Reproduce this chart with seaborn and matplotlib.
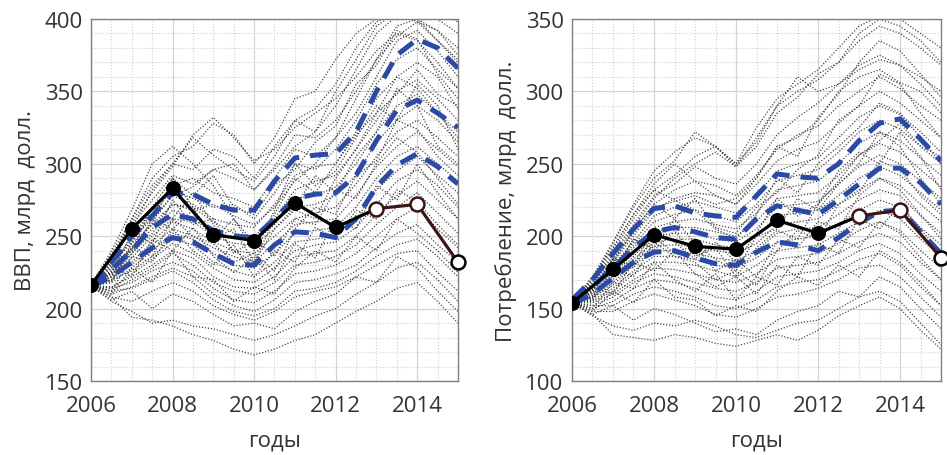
import pandas as pd
import seaborn as sns
import matplotlib.pyplot as plt
from matplotlib.ticker import MultipleLocator

# half-year grid points
years = [2006.0, 2006.5, 2007.0, 2007.5, 2008.0, 2008.5, 2009.0, 2009.5, 2010.0, 2010.5,
         2011.0, 2011.5, 2012.0, 2012.5, 2013.0, 2013.5, 2014.0, 2014.5, 2015.0]

# simulated GDP paths (billion USD)
gdp_paths = [
    [216, 238, 262, 290, 305, 312, 328, 320, 300, 318, 345, 350, 372, 390, 400, 410, 405, 400, 390],
    [216, 232, 255, 282, 300, 296, 310, 305, 290, 312, 330, 338, 355, 380, 398, 405, 400, 392, 380],
    [216, 236, 258, 275, 292, 286, 296, 300, 282, 298, 320, 318, 330, 350, 372, 395, 400, 385, 370],
    [216, 228, 250, 268, 285, 290, 280, 276, 270, 290, 310, 305, 318, 335, 360, 385, 392, 378, 360],
    [216, 230, 246, 265, 282, 276, 270, 272, 262, 280, 300, 296, 310, 330, 355, 372, 380, 365, 352],
    [216, 225, 242, 260, 278, 272, 262, 258, 256, 272, 292, 298, 300, 322, 345, 360, 370, 360, 338],
    [216, 226, 240, 255, 272, 270, 260, 252, 250, 262, 282, 288, 292, 310, 330, 350, 358, 345, 330],
    [216, 222, 238, 252, 268, 262, 252, 250, 246, 258, 276, 278, 284, 300, 322, 340, 348, 335, 322],
    [216, 224, 235, 250, 262, 260, 250, 245, 244, 255, 270, 272, 278, 292, 315, 330, 340, 330, 315],
    [216, 220, 232, 246, 260, 255, 246, 240, 238, 250, 262, 266, 270, 286, 305, 322, 330, 318, 305],
    [216, 222, 230, 244, 255, 250, 242, 236, 232, 245, 258, 260, 262, 278, 298, 312, 322, 310, 298],
    [216, 218, 228, 240, 252, 248, 238, 230, 228, 238, 252, 254, 256, 270, 290, 305, 312, 300, 288],
    [216, 220, 226, 236, 248, 244, 232, 226, 222, 232, 246, 248, 250, 262, 282, 295, 305, 292, 280],
    [216, 214, 224, 234, 245, 238, 228, 220, 218, 228, 240, 244, 246, 256, 272, 288, 296, 285, 270],
    [216, 215, 222, 230, 240, 235, 222, 215, 214, 222, 236, 238, 240, 250, 265, 278, 288, 275, 262],
    [216, 212, 220, 228, 238, 230, 218, 212, 210, 218, 230, 232, 236, 244, 258, 270, 280, 266, 252],
    [216, 214, 218, 226, 232, 226, 214, 206, 204, 212, 224, 226, 230, 238, 250, 262, 270, 255, 242],
    [216, 210, 215, 222, 228, 222, 210, 202, 198, 206, 218, 220, 224, 230, 242, 252, 258, 244, 232],
    [216, 212, 214, 220, 226, 218, 206, 198, 195, 200, 212, 214, 218, 226, 236, 244, 248, 236, 222],
    [216, 208, 205, 212, 218, 212, 202, 196, 192, 198, 208, 212, 215, 222, 230, 238, 240, 225, 212],
    [216, 205, 198, 190, 192, 188, 186, 182, 178, 182, 188, 195, 200, 210, 218, 228, 232, 220, 205],
    [216, 208, 194, 192, 188, 182, 178, 172, 168, 172, 178, 182, 190, 198, 205, 214, 218, 205, 190],
    [216, 234, 260, 280, 298, 320, 332, 318, 302, 310, 325, 335, 345, 360, 378, 390, 385, 370, 352],
    [216, 228, 248, 262, 278, 284, 296, 290, 282, 296, 312, 322, 340, 365, 390, 402, 410, 405, 398],
    [216, 226, 242, 258, 272, 268, 272, 264, 258, 270, 288, 300, 318, 345, 372, 388, 398, 392, 375],
    [216, 240, 268, 300, 312, 300, 285, 262, 245, 265, 290, 280, 300, 320, 335, 360, 352, 335, 318],
    [216, 218, 245, 258, 290, 270, 248, 262, 240, 268, 300, 285, 295, 318, 340, 330, 355, 340, 310],
    [216, 232, 240, 270, 262, 280, 258, 240, 232, 262, 270, 292, 280, 305, 322, 352, 340, 312, 300],
    [216, 225, 252, 245, 275, 258, 262, 238, 248, 236, 262, 258, 282, 276, 300, 318, 308, 290, 272],
    [216, 212, 236, 232, 255, 240, 230, 244, 222, 240, 232, 256, 248, 268, 262, 282, 274, 258, 244],
    [216, 230, 222, 248, 240, 256, 236, 225, 236, 220, 245, 235, 262, 255, 285, 275, 300, 280, 262],
    [216, 210, 228, 218, 240, 222, 220, 205, 215, 210, 228, 240, 232, 250, 240, 262, 252, 240, 225],
    [216, 235, 262, 285, 300, 318, 306, 296, 288, 305, 330, 322, 350, 372, 395, 405, 398, 385, 372],
    [216, 222, 245, 270, 290, 278, 292, 270, 265, 285, 296, 315, 326, 355, 368, 392, 386, 362, 345],
    [216, 206, 212, 200, 210, 205, 196, 188, 190, 186, 198, 205, 210, 222, 218, 236, 228, 212, 198],
    [216, 224, 238, 262, 255, 268, 248, 255, 232, 255, 268, 262, 290, 310, 335, 348, 365, 348, 340],
    [216, 219, 242, 236, 262, 250, 245, 232, 238, 226, 255, 270, 265, 292, 302, 330, 324, 305, 292],
]

# simulated consumption paths (billion USD)
cons_paths = [
    [154, 170, 195, 220, 240, 252, 272, 262, 250, 275, 295, 305, 315, 330, 345, 352, 350, 340, 330],
    [154, 168, 190, 212, 232, 242, 255, 262, 248, 262, 285, 296, 312, 320, 335, 345, 340, 330, 318],
    [154, 166, 188, 208, 228, 236, 248, 240, 236, 250, 270, 282, 292, 305, 318, 325, 318, 310, 300],
    [154, 164, 184, 204, 222, 232, 238, 235, 228, 242, 260, 270, 276, 290, 300, 310, 302, 290, 280],
    [154, 165, 182, 200, 218, 226, 230, 228, 222, 236, 252, 260, 265, 278, 290, 300, 292, 280, 268],
    [154, 162, 180, 196, 214, 220, 224, 220, 216, 228, 245, 250, 254, 268, 282, 290, 284, 272, 258],
    [154, 163, 178, 194, 210, 215, 218, 214, 210, 222, 238, 242, 246, 258, 272, 280, 274, 262, 250],
    [154, 160, 176, 192, 206, 210, 212, 208, 205, 216, 232, 235, 238, 250, 264, 272, 266, 254, 242],
    [154, 161, 174, 188, 203, 206, 206, 203, 200, 210, 226, 228, 230, 242, 256, 264, 258, 246, 234],
    [154, 158, 172, 186, 200, 202, 202, 198, 196, 205, 220, 222, 224, 236, 248, 256, 250, 238, 226],
    [154, 159, 170, 184, 196, 198, 198, 194, 192, 200, 214, 216, 218, 228, 240, 248, 242, 230, 218],
    [154, 157, 168, 182, 193, 194, 193, 190, 188, 195, 208, 210, 212, 222, 232, 240, 235, 222, 210],
    [154, 158, 166, 180, 190, 190, 188, 185, 183, 190, 202, 205, 206, 215, 225, 232, 228, 214, 202],
    [154, 156, 164, 176, 186, 186, 184, 180, 178, 185, 196, 198, 200, 208, 218, 225, 220, 206, 194],
    [154, 155, 162, 174, 182, 182, 180, 176, 172, 180, 190, 192, 194, 202, 210, 218, 212, 198, 186],
    [154, 154, 160, 170, 178, 177, 174, 170, 168, 174, 184, 186, 188, 195, 204, 210, 204, 190, 178],
    [154, 152, 158, 168, 174, 172, 168, 164, 162, 168, 178, 180, 182, 188, 196, 202, 196, 182, 170],
    [154, 150, 155, 164, 170, 168, 164, 158, 156, 162, 172, 174, 176, 182, 190, 195, 188, 174, 162],
    [154, 152, 152, 160, 165, 162, 158, 152, 150, 156, 165, 168, 170, 176, 184, 188, 180, 165, 152],
    [154, 148, 148, 155, 160, 156, 152, 146, 144, 150, 158, 160, 164, 170, 178, 180, 172, 158, 144],
    [154, 145, 138, 135, 140, 138, 142, 138, 132, 130, 135, 140, 142, 150, 158, 162, 155, 140, 125],
    [154, 146, 132, 130, 128, 132, 130, 126, 124, 128, 132, 128, 135, 145, 152, 158, 150, 135, 122],
    [154, 172, 196, 222, 245, 258, 268, 262, 250, 265, 290, 300, 308, 320, 340, 350, 345, 335, 320],
    [154, 166, 186, 206, 226, 240, 250, 258, 248, 268, 290, 310, 300, 305, 315, 322, 318, 305, 290],
    [154, 164, 184, 202, 220, 224, 228, 222, 226, 240, 262, 268, 280, 300, 310, 315, 306, 300, 285],
    [154, 172, 192, 215, 232, 225, 218, 205, 198, 215, 240, 230, 250, 262, 275, 292, 285, 268, 250],
    [154, 158, 184, 180, 205, 196, 184, 196, 182, 202, 226, 214, 222, 245, 258, 250, 272, 255, 232],
    [154, 168, 175, 198, 192, 212, 195, 184, 176, 200, 205, 226, 218, 236, 250, 272, 262, 240, 222],
    [154, 162, 185, 178, 200, 188, 194, 176, 184, 172, 196, 192, 210, 205, 228, 240, 232, 215, 198],
    [154, 150, 168, 164, 182, 170, 162, 174, 156, 172, 166, 186, 180, 198, 192, 210, 202, 185, 170],
    [154, 165, 160, 182, 176, 190, 174, 165, 172, 160, 180, 172, 195, 188, 212, 205, 222, 205, 188],
    [154, 148, 162, 154, 170, 158, 156, 145, 152, 148, 162, 172, 166, 180, 172, 190, 182, 168, 152],
    [154, 170, 192, 215, 236, 250, 238, 228, 222, 240, 262, 255, 282, 298, 320, 335, 328, 312, 296],
    [154, 162, 182, 204, 222, 212, 226, 206, 202, 220, 230, 246, 256, 280, 290, 312, 305, 285, 268],
    [154, 146, 152, 142, 150, 146, 140, 134, 136, 132, 142, 148, 152, 162, 158, 172, 165, 150, 136],
    [154, 164, 176, 198, 190, 204, 186, 192, 172, 192, 204, 198, 222, 238, 256, 266, 278, 262, 255],
    [154, 156, 178, 172, 196, 186, 182, 170, 176, 166, 190, 204, 198, 222, 230, 252, 246, 228, 215],
]

# quantile bands (upper, median, lower)
gdp_upper = [216, 232, 250, 264, 280, 279, 272, 268, 268, 288, 304, 306, 307, 322, 350, 375, 386, 380, 366]
gdp_mid = [216, 227, 240, 256, 265, 262, 254, 250, 249, 262, 276, 279, 280, 292, 316, 337, 344, 335, 325]
gdp_lower = [215, 222, 232, 242, 249, 246, 238, 231, 230, 244, 253, 252, 249, 262, 284, 299, 307, 298, 286]

cons_upper = [156, 170, 188, 205, 219, 221, 216, 214, 213, 228, 243, 241, 240, 250, 266, 278, 281, 267, 252]
cons_mid = [155, 165, 178, 192, 203, 206, 203, 199, 198, 212, 221, 218, 215, 225, 236, 247, 247, 237, 222]
cons_lower = [153, 160, 171, 182, 189, 190, 185, 181, 180, 189, 196, 194, 190, 199, 209, 217, 218, 203, 188]

# actual annual values
act_years = [2006, 2007, 2008, 2009, 2010, 2011, 2012, 2013]
gdp_actual = [216, 255, 283, 251, 247, 273, 256, 269]
cons_actual = [154, 177, 201, 193, 191, 211, 202, 214]
late_years = [2013, 2014, 2015]
gdp_late = [269, 272, 232]
cons_late = [214, 218, 185]

sns.set_style("white")
plt.rcParams['font.family'] = ['Open Sans', 'DejaVu Sans']

BLUE = '#2a4aa6'
DARK_RED = '#3e1515'


def paths_frame(paths):
    rows = []
    for i, p in enumerate(paths):
        for y, v in zip(years, p):
            rows.append({'path': i, 'year': y, 'value': v})
    return pd.DataFrame(rows)


def draw_panel(ax, paths, bands, actual, late, ylim, ylabel):
    df = paths_frame(paths)
    sns.lineplot(data=df, x='year', y='value', units='path', estimator=None,
                 color='#3a3a3a', lw=0.9, linestyle=(0, (0.9, 1.5)), ax=ax, zorder=2)
    for band in bands:
        sns.lineplot(x=years, y=band, ax=ax, color=BLUE, lw=3.6, zorder=4,
                     linestyle=(0, (3.6, 2.2)))
    sns.lineplot(x=act_years, y=actual, ax=ax, color='black', lw=2.3, zorder=5,
                 marker='o', markersize=10, markerfacecolor='black', markeredgecolor='black')
    sns.lineplot(x=late_years, y=late, ax=ax, color=DARK_RED, lw=2.3, zorder=6)
    ax.plot(late_years[:2], late[:2], 'o', ms=10, mfc='white', mec=DARK_RED, mew=1.8, zorder=7)
    ax.plot(late_years[2:], late[2:], 'o', ms=10, mfc='white', mec='black', mew=1.8,
            zorder=7, clip_on=False)

    ax.set_xlim(2006, 2015)
    ax.set_ylim(*ylim)
    ax.set_xticks([2006, 2008, 2010, 2012, 2014])
    ax.set_yticks(range(ylim[0], ylim[1] + 1, 50))
    ax.xaxis.set_minor_locator(MultipleLocator(0.5))
    ax.yaxis.set_minor_locator(MultipleLocator(10))
    ax.grid(which='major', color='#d4d4d4', lw=0.9)
    ax.grid(which='minor', color='#cfcfcf', lw=0.8, linestyle=':')
    ax.set_axisbelow(True)
    ax.tick_params(which='both', length=0, labelsize=16, labelcolor='#333333')
    ax.tick_params(axis='x', pad=10)
    ax.tick_params(axis='y', pad=6)
    ax.set_xlabel('годы', fontsize=16, color='#333333', labelpad=10)
    ax.set_ylabel(ylabel, fontsize=16, color='#333333', labelpad=6)
    for s in ax.spines.values():
        s.set_color('#808080')
        s.set_linewidth(1.0)


fig = plt.figure(figsize=(9.47, 4.56), dpi=100)
ax1 = fig.add_axes([0.0961, 0.1623, 0.3875, 0.7939])
ax2 = fig.add_axes([0.6040, 0.1623, 0.3897, 0.7939])

draw_panel(ax1, gdp_paths, [gdp_upper, gdp_mid, gdp_lower], gdp_actual, gdp_late,
           (150, 400), 'ВВП, млрд  долл.')
draw_panel(ax2, cons_paths, [cons_upper, cons_mid, cons_lower], cons_actual, cons_late,
           (100, 350), 'Потребление, млрд  долл.')

fig.savefig('out.png', dpi=100)
